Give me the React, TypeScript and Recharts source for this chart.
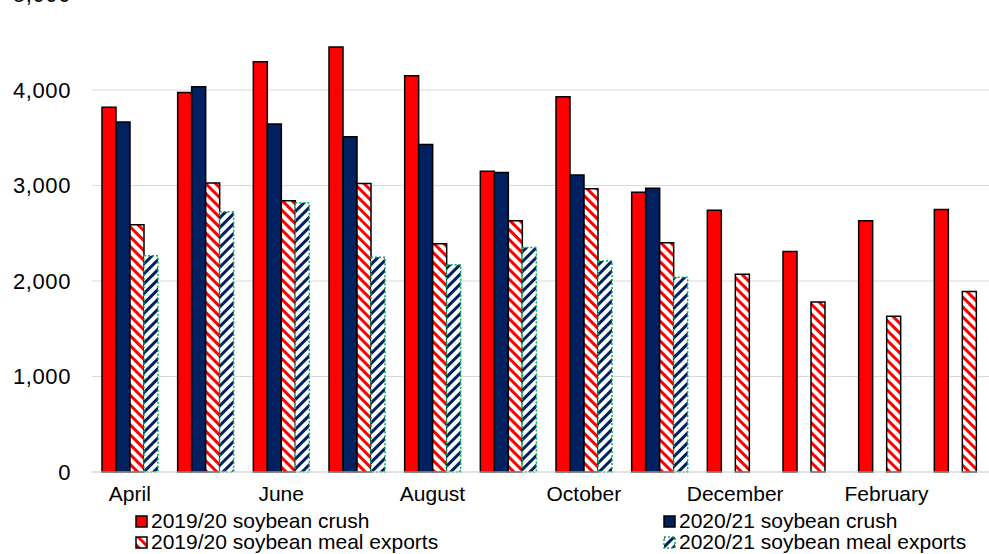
import React from "react";
import { BarChart, Bar, XAxis, YAxis, CartesianGrid } from "recharts";

const months = [
  "April", "May", "June", "July", "August", "September",
  "October", "November", "December", "January", "February", "March",
];
const crush1920 = [3820, 3975, 4295, 4450, 4150, 3150, 3930, 2930, 2740, 2310, 2630, 2750];
const crush2021 = [3665, 4035, 3645, 3510, 3430, 3135, 3110, 2970, null, null, null, null];
const meal1920 = [2590, 3025, 2840, 3020, 2390, 2630, 2965, 2400, 2070, 1780, 1630, 1890];
const meal2021 = [2265, 2725, 2820, 2250, 2170, 2350, 2210, 2040, null, null, null, null];
const yTicks = [0, 1000, 2000, 3000, 4000, 5000];

const data = months.map((m, i) => ({
  month: m,
  crush1920: crush1920[i],
  crush2021: crush2021[i],
  meal1920: meal1920[i],
  meal2021: meal2021[i],
}));

const FONT = "'Liberation Sans', Arial, sans-serif";

const series = [
  { key: "crush1920", name: "2019/20 soybean crush", fill: "#FF0000", stroke: "#000", dash: undefined },
  { key: "crush2021", name: "2020/21 soybean crush", fill: "#002060", stroke: "#000", dash: undefined },
  { key: "meal1920", name: "2019/20 soybean meal exports", fill: "url(#stripeRed)", stroke: "#000", dash: undefined },
  { key: "meal2021", name: "2020/21 soybean meal exports", fill: "url(#stripeBlue)", stroke: "#00B050", dash: "2 2" },
];

// hatch fills shared by bars and legend markers
const Patterns = () => (
  <svg width={0} height={0} style={{ position: "absolute" }}>
    <defs>
      <pattern id="stripeRed" patternUnits="userSpaceOnUse" width={7} height={7} patternTransform="rotate(-45)">
        <rect width={7} height={7} fill="#fff" />
        <rect width={3} height={7} fill="#FF0000" />
      </pattern>
      <pattern id="stripeBlue" patternUnits="userSpaceOnUse" width={7} height={7} patternTransform="rotate(45)">
        <rect width={7} height={7} fill="#fff" />
        <rect width={3} height={7} fill="#002060" />
      </pattern>
    </defs>
  </svg>
);

const LegendMarker = ({ s }: { s: (typeof series)[number] }) => (
  <svg width={13} height={13} style={{ marginRight: 3 }}>
    <rect x={1} y={1} width={11} height={11} fill={s.fill} stroke={s.stroke} strokeWidth={1.5} strokeDasharray={s.dash} />
  </svg>
);

const legendPos = [
  { left: 135, top: 510 },
  { left: 663, top: 510 },
  { left: 135, top: 531 },
  { left: 663, top: 531 },
];

export default function App() {
  return (
    <div style={{ position: "absolute", left: 0, top: 0, width: 989, height: 554, overflow: "hidden", background: "#fff", fontFamily: FONT }}>
      <Patterns />
      <div style={{ position: "absolute", left: 0, top: -20 }}>
        <BarChart
          width={1000}
          height={532}
          data={data}
          margin={{ top: 14.5, right: 0, bottom: 0, left: 0 }}
          barCategoryGap={10}
          barGap={0}
        >
          <CartesianGrid vertical={false} stroke="#d9d9d9" />
          <XAxis
            dataKey="month"
            interval={1}
            tickLine={false}
            axisLine={{ stroke: "#d9d9d9" }}
            tick={{ fill: "#000", fontSize: 21, fontFamily: FONT }}
            tickMargin={8}
            height={40}
          />
          <YAxis
            width={92}
            domain={[0, 5000]}
            ticks={yTicks}
            axisLine={false}
            tickLine={false}
            tickMargin={15}
            tick={{ fill: "#000", fontSize: 22, fontFamily: FONT, letterSpacing: 0.6 }}
            tickFormatter={(v: number) => v.toLocaleString("en-US")}
          />
          {series.map((s) => (
            <Bar
              key={s.key}
              dataKey={s.key}
              name={s.name}
              fill={s.fill}
              stroke={s.stroke}
              strokeWidth={1.5}
              strokeDasharray={s.dash}
              isAnimationActive={false}
            />
          ))}
        </BarChart>
      </div>
      {series.map((s, i) => (
        <div
          key={s.key}
          style={{
            position: "absolute",
            left: legendPos[i].left,
            top: legendPos[i].top,
            display: "flex",
            alignItems: "center",
            fontSize: 21,
            lineHeight: "22px",
            color: "#000",
            whiteSpace: "nowrap",
          }}
        >
          <LegendMarker s={s} />
          <span>{s.name}</span>
        </div>
      ))}
    </div>
  );
}
